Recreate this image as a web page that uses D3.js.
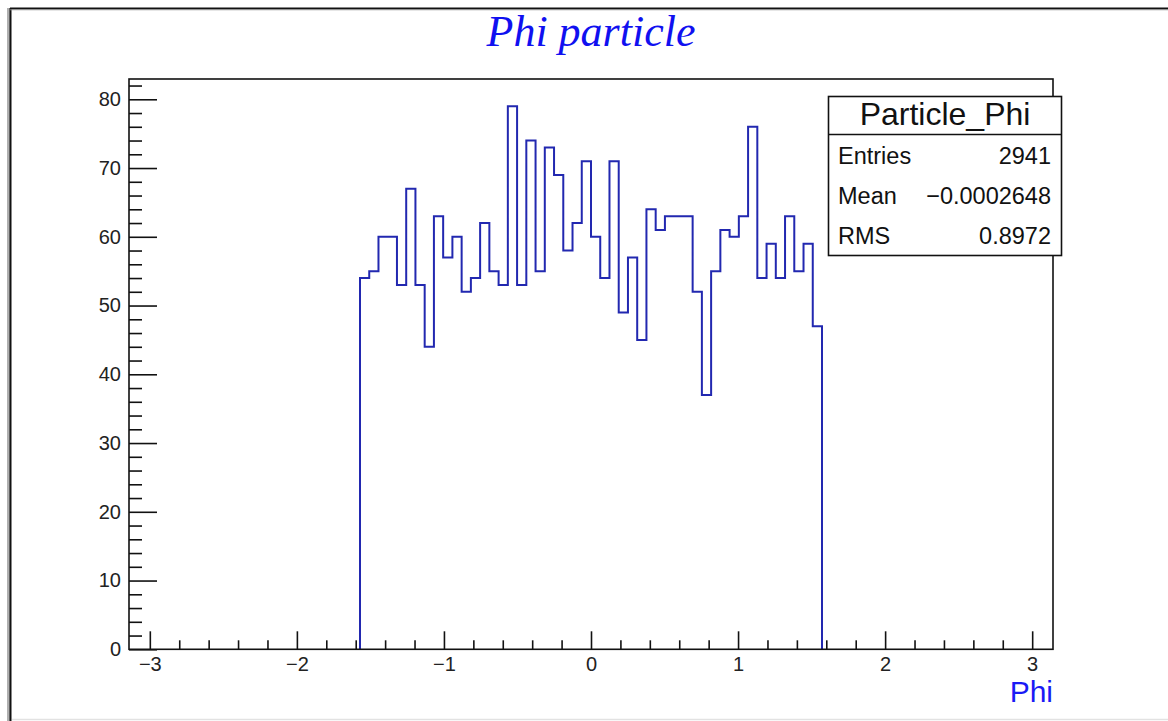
<!DOCTYPE html>
<html>
<head>
<meta charset="utf-8">
<script src="https://cdn.jsdelivr.net/npm/d3@7"></script>
<style>
  html, body { margin: 0; padding: 0; background: #fff; }
  svg { display: block; }
</style>
</head>
<body>
<svg id="chart" width="1168" height="721"></svg>
<script>
// ---------- data ----------
const titleText = "Phi particle";
const xAxisTitle = "Phi";
const histName = "Particle_Phi";
const nBins = 100;
const xMin = -Math.PI;
const xMax = Math.PI;
const firstFilledBin = 25;           // index of the first non-empty bin
const binCounts = [54, 55, 60, 60, 53, 67, 53, 44, 63, 57,
                   60, 52, 54, 62, 55, 53, 79, 53, 74, 55,
                   73, 69, 58, 62, 71, 60, 54, 71, 49, 57,
                   45, 64, 61, 63, 63, 63, 52, 37, 55, 61,
                   60, 63, 76, 54, 59, 54, 63, 55, 59, 47];
const xMajorTicks = [-3, -2, -1, 0, 1, 2, 3];
const yMajorTicks = [0, 10, 20, 30, 40, 50, 60, 70, 80];
const statLabels = ["Entries", "Mean", "RMS"];
const statValues = ["2941", "\u22120.0002648", "0.8972"];

// ---------- layout ----------
const svg = d3.select("#chart");
const frame = { left: 129, right: 1053, top: 79, bottom: 649.3 };
const yMax = 1.05 * d3.max(binCounts);

const x = d3.scaleLinear().domain([xMin, xMax]).range([frame.left, frame.right]);
const y = d3.scaleLinear().domain([0, yMax]).range([frame.bottom, frame.top]);

// outer canvas border (left + top dark, bottom light)
svg.append("rect").attr("x", 7).attr("y", 8).attr("width", 3).attr("height", 713).attr("fill", "#b0b0b0");
svg.append("line").attr("x1", 10.5).attr("x2", 10.5).attr("y1", 8).attr("y2", 721).attr("stroke", "#111").attr("stroke-width", 2);
svg.append("line").attr("x1", 10).attr("x2", 1168).attr("y1", 8.5).attr("y2", 8.5).attr("stroke", "#111").attr("stroke-width", 2);
svg.append("line").attr("x1", 10).attr("x2", 1168).attr("y1", 9.8).attr("y2", 9.8).attr("stroke", "#999").attr("stroke-width", 0.8);
svg.append("line").attr("x1", 12).attr("x2", 1168).attr("y1", 719.5).attr("y2", 719.5).attr("stroke", "#e2e2e2").attr("stroke-width", 1.5);

// ---------- histogram step path ----------
const binW = (xMax - xMin) / nBins;
const pts = [];
binCounts.forEach((c, i) => {
  const lo = xMin + (firstFilledBin + i) * binW;
  const hi = lo + binW;
  if (i === 0) pts.push([x(lo), y(0)]);
  pts.push([x(lo), y(c)]);
  pts.push([x(hi), y(c)]);
  if (i === binCounts.length - 1) pts.push([x(hi), y(0)]);
});
svg.append("path")
  .attr("d", d3.line()(pts))
  .attr("fill", "none")
  .attr("stroke", "#2228b0")
  .attr("stroke-width", 2);

// ---------- axes ----------
const fmt = d => (d < 0 ? "\u2212" + Math.abs(d) : String(d));
const xMinor = d3.range(-30, 31, 2).map(v => v / 10).filter(v => xMajorTicks.indexOf(v) < 0);
const yMinor = d3.range(0, yMax, 2).filter(v => v % 10 !== 0);

const gx = svg.append("g").attr("transform", `translate(0,${frame.bottom})`);
gx.call(d3.axisBottom(x).tickValues(xMajorTicks).tickSize(-18).tickSizeOuter(0).tickPadding(8).tickFormat(fmt));
const gxm = svg.append("g").attr("transform", `translate(0,${frame.bottom})`);
gxm.call(d3.axisBottom(x).tickValues(xMinor).tickSize(-9).tickSizeOuter(0).tickFormat(""));

const gy = svg.append("g").attr("transform", `translate(${frame.left},0)`);
gy.call(d3.axisLeft(y).tickValues(yMajorTicks).tickSize(-28).tickSizeOuter(0).tickPadding(8).tickFormat(fmt));
const gym = svg.append("g").attr("transform", `translate(${frame.left},0)`);
gym.call(d3.axisLeft(y).tickValues(yMinor).tickSize(-13).tickSizeOuter(0).tickFormat(""));

svg.selectAll(".domain").remove();
svg.selectAll(".tick line").attr("stroke", "#111").attr("stroke-width", 1.6);
svg.selectAll(".tick text")
  .attr("font-family", "'Liberation Sans', Arial, sans-serif")
  .attr("font-size", 20)
  .attr("fill", "#222");

// frame
svg.append("rect")
  .attr("x", frame.left).attr("y", frame.top)
  .attr("width", frame.right - frame.left).attr("height", frame.bottom - frame.top)
  .attr("fill", "none").attr("stroke", "#111").attr("stroke-width", 1.6);

// ---------- title ----------
svg.append("text")
  .attr("x", 591).attr("y", 46)
  .attr("text-anchor", "middle")
  .attr("font-family", "'Liberation Serif', 'Times New Roman', serif")
  .attr("font-style", "italic")
  .attr("font-size", 44)
  .attr("fill", "#1010f0")
  .text(titleText);

// x axis title
svg.append("text")
  .attr("x", frame.right).attr("y", 701.5)
  .attr("text-anchor", "end")
  .attr("font-family", "'Liberation Sans', Arial, sans-serif")
  .attr("font-size", 30)
  .attr("fill", "#1a1af5")
  .text(xAxisTitle);

// ---------- stats box ----------
const sb = { x: 828.5, y: 96.5, w: 233, h: 159, head: 38 };
const g = svg.append("g");
g.append("rect").attr("x", sb.x).attr("y", sb.y).attr("width", sb.w).attr("height", sb.h)
  .attr("fill", "#fff").attr("stroke", "#111").attr("stroke-width", 1.6);
g.append("line").attr("x1", sb.x).attr("x2", sb.x + sb.w).attr("y1", sb.y + sb.head).attr("y2", sb.y + sb.head)
  .attr("stroke", "#111").attr("stroke-width", 1.6);
g.append("text").attr("x", sb.x + sb.w / 2).attr("y", 125)
  .attr("text-anchor", "middle")
  .attr("font-family", "'Liberation Sans', Arial, sans-serif")
  .attr("font-size", 32).attr("fill", "#111")
  .text(histName);
const rowY = [164, 204, 243.5];
statLabels.forEach((lab, i) => {
  g.append("text").attr("x", 838).attr("y", rowY[i])
    .attr("font-family", "'Liberation Sans', Arial, sans-serif")
    .attr("font-size", 23.5).attr("fill", "#111").text(lab);
  g.append("text").attr("x", 1051).attr("y", rowY[i]).attr("text-anchor", "end")
    .attr("font-family", "'Liberation Sans', Arial, sans-serif")
    .attr("font-size", 23.5).attr("fill", "#111").text(statValues[i]);
});
</script>
</body>
</html>
